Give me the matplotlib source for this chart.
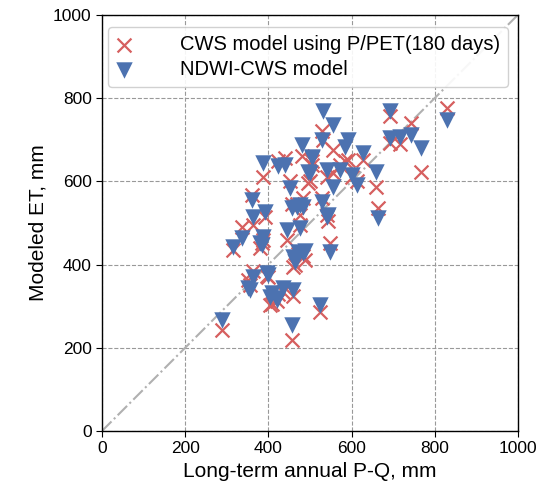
import numpy as np
import matplotlib
matplotlib.use("Agg")
import matplotlib.pyplot as plt

plt.rcParams["font.family"] = ["Liberation Sans", "DejaVu Sans"]

# long-term annual P-Q (mm) and modeled ET from both models (mm)
obs_pq = [288, 316, 336, 352, 356, 360, 364, 364, 380, 384, 388, 388, 392, 396,
          400, 404, 408, 420, 424, 424, 436, 440, 444, 452, 456, 456, 460, 460,
          464, 468, 472, 476, 476, 480, 484, 484, 488, 496, 500, 504, 504, 524,
          528, 528, 532, 540, 540, 544, 548, 556, 556, 572, 584, 592, 600, 612,
          628, 660, 664, 692, 692, 716, 744, 768, 829]
et_ndwi = [267, 443, 463, 343, 339, 555, 371, 515, 451, 447, 467, 644, 527, 379,
           375, 323, 331, 315, 636, 319, 343, 639, 483, 583, 535, 255, 419, 339,
           407, 539, 431, 543, 487, 687, 427, 539, 433, 623, 619, 655, 659, 303,
           700, 551, 768, 627, 515, 520, 431, 736, 587, 627, 683, 700, 615, 591,
           667, 623, 511, 768, 704, 707, 712, 680, 748]
et_cws = [242, 435, 490, 363, 350, 567, 385, 495, 440, 452, 460, 611, 515, 372,
          370, 303, 305, 312, 650, 330, 335, 655, 459, 600, 545, 219, 395, 325,
          400, 545, 425, 520, 495, 660, 420, 560, 411, 595, 600, 640, 650, 286,
          720, 560, 700, 610, 519, 505, 451, 675, 620, 640, 650, 651, 610, 600,
          651, 587, 535, 756, 692, 690, 740, 623, 776]

fig = plt.figure(figsize=(5.4, 4.97), dpi=100)
ax = fig.add_axes([0.189, 0.133, 0.770, 0.837])

ax.plot([0, 1000], [0, 1000], ls="-.", color="#b0b0b0", lw=1.5, zorder=1)
ax.scatter(obs_pq, et_cws, marker="x", s=100, color="#d65f5f", linewidths=1.6,
           label="CWS model using P/PET(180 days)", zorder=3)
ax.scatter(obs_pq, et_ndwi, marker="v", s=140, color="#4c72b0", linewidths=0,
           label="NDWI-CWS model", zorder=4)

ax.set_xlim(0, 1000)
ax.set_ylim(0, 1000)
ax.set_xticks(np.arange(0, 1001, 200))
ax.set_yticks(np.arange(0, 1001, 200))
ax.grid(True, ls="--", color="#999999", lw=0.8)
ax.set_axisbelow(True)
ax.tick_params(labelsize=12.5, direction="out", length=4)
for sp in ax.spines.values():
    sp.set_color("black")
    sp.set_linewidth(1.0)

ax.set_xlabel("Long-term annual P-Q, mm", fontsize=15)
ax.set_ylabel("Modeled ET, mm", fontsize=15)

ax.legend(loc="upper center", fontsize=14.5, frameon=True, fancybox=True,
          borderpad=0.4, handlelength=0.8, handletextpad=2.4, labelspacing=0.3,
          bbox_to_anchor=(0.495, 0.995), framealpha=0.9, edgecolor="#cccccc")

fig.savefig("out.png", dpi=100, facecolor="white")
